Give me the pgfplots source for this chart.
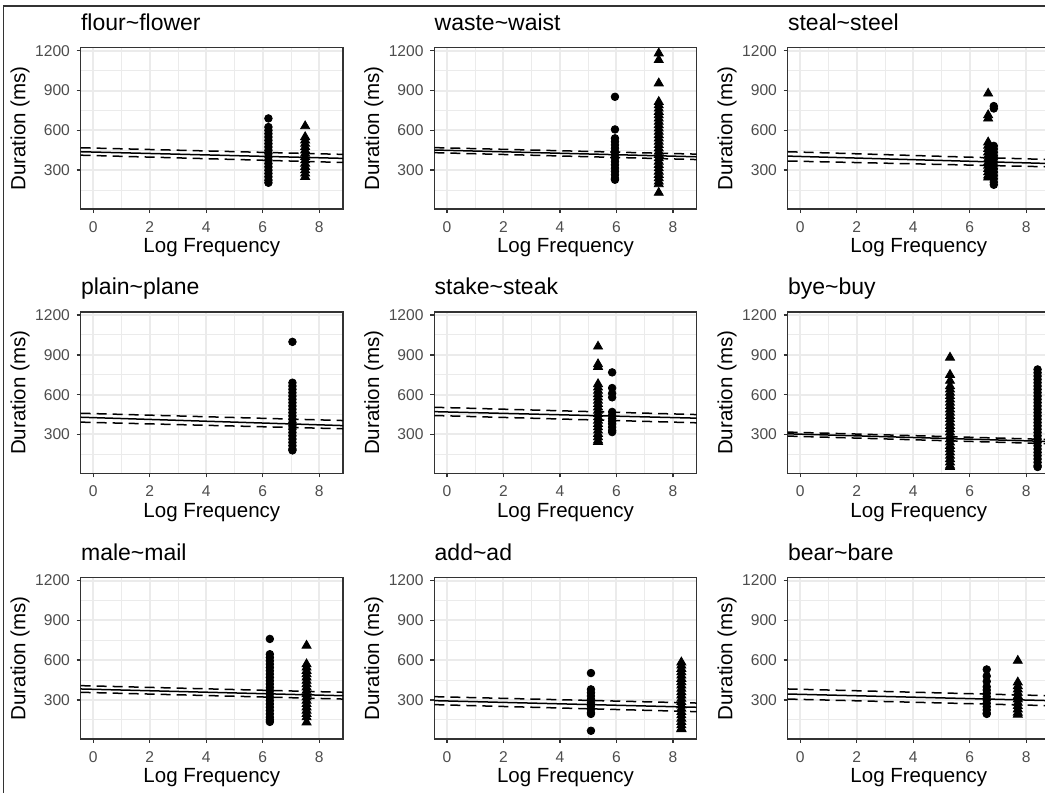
\documentclass[border=0pt]{standalone}
\usepackage{fontspec}
\setmainfont{Liberation Sans}
\usepackage{pgfplots}
\pgfplotsset{compat=1.18}

\definecolor{grey20}{HTML}{333333}
\definecolor{grey30}{HTML}{4D4D4D}
\definecolor{grey92}{HTML}{EBEBEB}

\pgfplotsset{
  panel/.style={
    anchor=south west,
    scale only axis, width=131.15pt, height=80.75pt,
    xmin=-0.446, xmax=8.84, ymin=6, ymax=1223,
    xtick={0,2,4,6,8}, ytick={300,600,900,1200},
    minor xtick={1,3,5,7}, minor ytick={150,450,750,1050},
    grid=both,
    major grid style={grey92, line width=1pt},
    minor grid style={grey92, line width=0.5pt},
    axis line style={grey20, line width=0.7pt},
    tick style={grey20, line width=0.7pt},
    major tick length=2pt, minor tick length=0pt,
    tick align=outside, xtick pos=bottom, ytick pos=left,
    /pgf/number format/assume math mode=true,
    /pgf/number format/1000 sep={},
    ticklabel style={font=\fontsize{7.8}{9}\selectfont, text=grey30, inner sep=0pt},
    xticklabel style={anchor=north, yshift=-4pt},
    yticklabel style={anchor=east, xshift=-3.2pt},
    every axis title/.style={at={(0,1)}, anchor=base west, yshift=8.5pt,
      inner sep=0pt, font=\fontsize{11.5}{13}\selectfont},
    every axis x label/.style={at={(axis description cs:0.5,0)}, anchor=center,
      yshift=-19.4pt, font=\fontsize{10.25}{12}\selectfont},
    every axis y label/.style={at={(axis description cs:0,0.5)}, xshift=-30.3pt,
      rotate=90, anchor=center, font=\fontsize{10.25}{12}\selectfont},
    xlabel={Log Frequency}, ylabel={Duration (ms)},
  },
  circ/.style={only marks, mark=*, mark size=1.9pt, black},
  tri/.style={only marks, mark=triangle*, mark size=2.6pt, black},
  fit/.style={black, line width=0.75pt, no marks},
  ci/.style={black, line width=0.75pt, no marks, dash pattern=on 5pt off 3pt},
}

\begin{document}
\begin{tikzpicture}
\useasboundingbox (0,0) rectangle (522.5pt,396.5pt);
\clip (0,0) rectangle (522.5pt,396.5pt);
\draw[grey20, line width=0.7pt] (1.8pt,0) -- (1.8pt,393.5pt) -- (522.5pt,393.5pt);

% row 1
\begin{axis}[panel, at={(40.35pt,291.9pt)}, title={flour\textasciitilde flower}]
  \addplot[circ] coordinates {(6.2,690) (6.2,625) (6.2,600) (6.2,575) (6.2,550)
    (6.2,525) (6.2,500) (6.2,475) (6.2,450) (6.2,425) (6.2,400) (6.2,375)
    (6.2,350) (6.2,325) (6.2,300) (6.2,275) (6.2,250) (6.2,225) (6.2,205)};
  \addplot[tri] coordinates {(7.5,632) (7.5,550) (7.5,525) (7.5,500) (7.5,475)
    (7.5,450) (7.5,425) (7.5,400) (7.5,375) (7.5,350) (7.5,325) (7.5,300)
    (7.5,275) (7.5,250)};
  \addplot[fit] coordinates {(-0.446,439) (8.84,389)};
  \addplot[ci] coordinates {(-0.446,469) (8.84,419)};
  \addplot[ci] coordinates {(-0.446,413) (8.84,358)};
\end{axis}

\begin{axis}[panel, at={(217.15pt,291.9pt)}, title={waste\textasciitilde waist}]
  \addplot[circ] coordinates {(5.95,853) (5.95,607) (5.95,540) (5.95,515)
    (5.95,490) (5.95,465) (5.95,440) (5.95,415) (5.95,390) (5.95,365)
    (5.95,340) (5.95,315) (5.95,290) (5.95,265) (5.95,240) (5.95,228)};
  \addplot[tri] coordinates {(7.5,1181) (7.5,1131) (7.5,955) (7.5,815) (7.5,790)
    (7.5,765) (7.5,740) (7.5,715) (7.5,690) (7.5,665) (7.5,640) (7.5,615)
    (7.5,590) (7.5,565) (7.5,540) (7.5,515) (7.5,490) (7.5,465) (7.5,440)
    (7.5,415) (7.5,390) (7.5,365) (7.5,340) (7.5,315) (7.5,290) (7.5,265)
    (7.5,240) (7.5,215) (7.5,195) (7.5,130)};
  \addplot[fit] coordinates {(-0.446,452) (8.84,401)};
  \addplot[ci] coordinates {(-0.446,470) (8.84,421)};
  \addplot[ci] coordinates {(-0.446,432) (8.84,380)};
\end{axis}

\begin{axis}[panel, at={(393.85pt,291.9pt)}, title={steal\textasciitilde steel}]
  \addplot[tri] coordinates {(6.65,878) (6.65,715) (6.65,690) (6.65,510)
    (6.65,485) (6.65,460) (6.65,435) (6.65,410) (6.65,385) (6.65,360)
    (6.65,335) (6.65,310) (6.65,285) (6.65,260) (6.65,245)};
  \addplot[circ] coordinates {(6.85,783) (6.85,765) (6.85,483) (6.85,460)
    (6.85,435) (6.85,410) (6.85,385) (6.85,360) (6.85,335) (6.85,310)
    (6.85,285) (6.85,260) (6.85,235) (6.85,210) (6.85,190)};
  \addplot[fit] coordinates {(-0.446,406) (8.84,350)};
  \addplot[ci] coordinates {(-0.446,439) (8.84,380)};
  \addplot[ci] coordinates {(-0.446,369) (8.84,325)};
\end{axis}

% row 2
\begin{axis}[panel, at={(40.35pt,159.75pt)}, title={plain\textasciitilde plane}]
  \addplot[circ] coordinates {(7.05,998) (7.05,690) (7.05,665) (7.05,640)
    (7.05,615) (7.05,590) (7.05,565) (7.05,540) (7.05,515) (7.05,490)
    (7.05,465) (7.05,440) (7.05,415) (7.05,390) (7.05,365) (7.05,340)
    (7.05,315) (7.05,290) (7.05,265) (7.05,240) (7.05,215) (7.05,190)
    (7.05,180)};
  \addplot[fit] coordinates {(-0.446,430) (8.84,367)};
  \addplot[ci] coordinates {(-0.446,460) (8.84,405)};
  \addplot[ci] coordinates {(-0.446,393) (8.84,343)};
\end{axis}

\begin{axis}[panel, at={(217.15pt,159.75pt)}, title={stake\textasciitilde steak}]
  \addplot[tri] coordinates {(5.35,963) (5.35,830) (5.35,810) (5.35,680)
    (5.35,655) (5.35,630) (5.35,605) (5.35,580) (5.35,555) (5.35,530)
    (5.35,505) (5.35,480) (5.35,455) (5.35,430) (5.35,405) (5.35,380)
    (5.35,355) (5.35,330) (5.35,305) (5.35,280) (5.35,255) (5.35,245)};
  \addplot[circ] coordinates {(5.85,768) (5.85,650) (5.85,610) (5.85,580)
    (5.85,470) (5.85,445) (5.85,420) (5.85,400) (5.85,380) (5.85,355)
    (5.85,330) (5.85,318)};
  \addplot[fit] coordinates {(-0.446,472) (8.84,423)};
  \addplot[ci] coordinates {(-0.446,505) (8.84,450)};
  \addplot[ci] coordinates {(-0.446,443) (8.84,388)};
\end{axis}

\begin{axis}[panel, at={(393.85pt,159.75pt)}, title={bye\textasciitilde buy}]
  \addplot[tri] coordinates {(5.3,880) (5.3,750) (5.3,705) (5.3,665) (5.3,640)
    (5.3,615) (5.3,590) (5.3,565) (5.3,540) (5.3,515) (5.3,490) (5.3,465)
    (5.3,440) (5.3,415) (5.3,390) (5.3,365) (5.3,340) (5.3,315) (5.3,290)
    (5.3,265) (5.3,240) (5.3,215) (5.3,190) (5.3,165) (5.3,140) (5.3,115)
    (5.3,90) (5.3,65) (5.3,55)};
  \addplot[circ] coordinates {(8.4,790) (8.4,765) (8.4,740) (8.4,715) (8.4,690)
    (8.4,665) (8.4,640) (8.4,615) (8.4,590) (8.4,565) (8.4,540) (8.4,515)
    (8.4,490) (8.4,465) (8.4,440) (8.4,415) (8.4,390) (8.4,365) (8.4,340)
    (8.4,315) (8.4,290) (8.4,265) (8.4,240) (8.4,215) (8.4,190) (8.4,165)
    (8.4,140) (8.4,115) (8.4,90) (8.4,65) (8.4,55)};
  \addplot[fit] coordinates {(-0.446,305) (8.84,247)};
  \addplot[ci] coordinates {(-0.446,318) (8.84,262)};
  \addplot[ci] coordinates {(-0.446,288) (8.84,230)};
\end{axis}

% row 3
\begin{axis}[panel, at={(40.35pt,27pt)}, title={male\textasciitilde mail}]
  \addplot[circ] coordinates {(6.25,760) (6.25,645) (6.25,620) (6.25,595)
    (6.25,570) (6.25,545) (6.25,520) (6.25,495) (6.25,470) (6.25,445)
    (6.25,420) (6.25,395) (6.25,370) (6.25,345) (6.25,320) (6.25,295)
    (6.25,270) (6.25,245) (6.25,220) (6.25,195) (6.25,170) (6.25,150)
    (6.25,135)};
  \addplot[tri] coordinates {(7.55,710) (7.55,570) (7.55,545) (7.55,520)
    (7.55,495) (7.55,470) (7.55,445) (7.55,420) (7.55,395) (7.55,370)
    (7.55,345) (7.55,320) (7.55,295) (7.55,270) (7.55,245) (7.55,220)
    (7.55,195) (7.55,170) (7.55,132)};
  \addplot[fit] coordinates {(-0.446,383) (8.84,332)};
  \addplot[ci] coordinates {(-0.446,408) (8.84,358)};
  \addplot[ci] coordinates {(-0.446,358) (8.84,307)};
\end{axis}

\begin{axis}[panel, at={(217.15pt,27pt)}, title={add\textasciitilde ad}]
  \addplot[circ] coordinates {(5.1,503) (5.1,380) (5.1,355) (5.1,330) (5.1,305)
    (5.1,280) (5.1,255) (5.1,230) (5.1,205) (5.1,195) (5.1,68)};
  \addplot[tri] coordinates {(8.3,584) (8.3,560) (8.3,535) (8.3,510) (8.3,485)
    (8.3,460) (8.3,435) (8.3,410) (8.3,385) (8.3,360) (8.3,335) (8.3,310)
    (8.3,285) (8.3,260) (8.3,235) (8.3,210) (8.3,185) (8.3,160) (8.3,135)
    (8.3,110) (8.3,85) (8.3,80)};
  \addplot[fit] coordinates {(-0.446,295) (8.84,245)};
  \addplot[ci] coordinates {(-0.446,325) (8.84,277)};
  \addplot[ci] coordinates {(-0.446,265) (8.84,212)};
\end{axis}

\begin{axis}[panel, at={(393.85pt,27pt)}, title={bear\textasciitilde bare}]
  \addplot[circ] coordinates {(6.6,530) (6.6,480) (6.6,440) (6.6,400) (6.6,375)
    (6.6,350) (6.6,325) (6.6,300) (6.6,275) (6.6,250) (6.6,225) (6.6,200)
    (6.6,195)};
  \addplot[tri] coordinates {(7.7,596) (7.7,433) (7.7,405) (7.7,380) (7.7,355)
    (7.7,330) (7.7,305) (7.7,280) (7.7,255) (7.7,230) (7.7,205) (7.7,190)};
  \addplot[fit] coordinates {(-0.446,345) (8.84,295)};
  \addplot[ci] coordinates {(-0.446,383) (8.84,332)};
  \addplot[ci] coordinates {(-0.446,307) (8.84,257)};
\end{axis}
\end{tikzpicture}
\end{document}
